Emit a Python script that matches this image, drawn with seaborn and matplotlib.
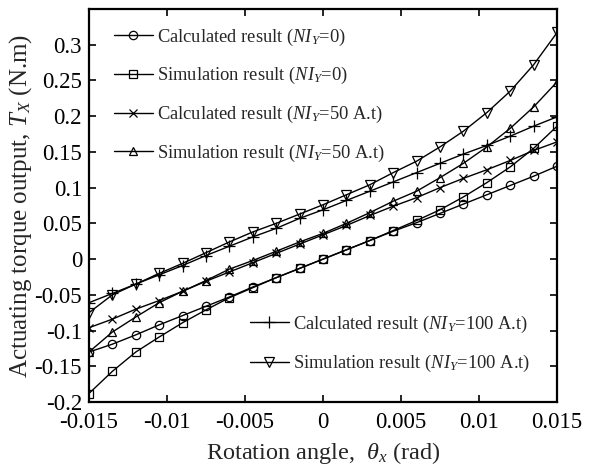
import numpy as np
import pandas as pd
import matplotlib
matplotlib.use("Agg")
import matplotlib.pyplot as plt
import seaborn as sns

sns.set_style("ticks")
plt.rcParams['font.family'] = ['Liberation Serif', 'DejaVu Serif']
plt.rcParams['mathtext.fontset'] = 'custom'
plt.rcParams['mathtext.rm'] = 'Liberation Serif'
plt.rcParams['mathtext.it'] = 'Liberation Serif:italic'

theta = [-0.015, -0.0135, -0.012, -0.0105, -0.009, -0.0075, -0.006, -0.0045, -0.003, -0.0015,
         0.0, 0.0015, 0.003, 0.0045, 0.006, 0.0075, 0.009, 0.0105, 0.012, 0.0135, 0.015]

calc_0 = [-0.130, -0.119, -0.106, -0.092, -0.079, -0.066, -0.053, -0.039, -0.026, -0.013,
          0.000, 0.013, 0.026, 0.039, 0.051, 0.064, 0.077, 0.090, 0.103, 0.116, 0.130]
sim_0 = [-0.188, -0.157, -0.130, -0.109, -0.089, -0.071, -0.054, -0.040, -0.026, -0.013,
         0.000, 0.013, 0.026, 0.040, 0.054, 0.069, 0.087, 0.107, 0.129, 0.155, 0.186]
calc_50 = [-0.096, -0.084, -0.070, -0.058, -0.045, -0.031, -0.018, -0.005, 0.008, 0.021,
           0.034, 0.047, 0.061, 0.074, 0.086, 0.100, 0.113, 0.125, 0.138, 0.152, 0.164]
sim_50 = [-0.130, -0.102, -0.081, -0.061, -0.045, -0.030, -0.014, -0.002, 0.011, 0.024,
          0.036, 0.050, 0.065, 0.081, 0.095, 0.114, 0.134, 0.157, 0.183, 0.213, 0.248]
calc_100 = [-0.061, -0.048, -0.035, -0.022, -0.009, 0.005, 0.018, 0.031, 0.043, 0.057,
            0.069, 0.082, 0.095, 0.108, 0.121, 0.134, 0.147, 0.159, 0.172, 0.186, 0.199]
sim_100 = [-0.075, -0.050, -0.035, -0.020, -0.006, 0.009, 0.024, 0.038, 0.050, 0.063,
           0.076, 0.090, 0.104, 0.121, 0.137, 0.157, 0.179, 0.205, 0.235, 0.272, 0.317]

labels = [r"Calculated result ($NI_Y$=0)",
          r"Simulation result ($NI_Y$=0)",
          r"Calculated result ($NI_Y$=50 A.t)",
          r"Simulation result ($NI_Y$=50 A.t)",
          r"Calculated result ($NI_Y$=100 A.t)",
          r"Simulation result ($NI_Y$=100 A.t)"]
series = [calc_0, sim_0, calc_50, sim_50, calc_100, sim_100]
markers = ['o', 's', 'x', '^', '+', 'v']
msizes = [6, 6, 6, 6, 8, 7]

xticks = [-0.015, -0.01, -0.005, 0, 0.005, 0.01, 0.015]
xticklabels = ['-0.015', '-0.01', '-0.005', '0', '0.005', '0.01', '0.015']
yticks = [-0.2, -0.15, -0.1, -0.05, 0, 0.05, 0.1, 0.15, 0.2, 0.25, 0.3]
yticklabels = ['-0.2', '-0.15', '-0.1', '-0.05', '0', '0.05', '0.1', '0.15', '0.2', '0.25', '0.3']

fig = plt.figure(figsize=(6.01, 4.67), dpi=100)
ax = fig.add_axes([0.148, 0.139, 0.779, 0.842])

for vals, lab, mk, ms in zip(series, labels, markers, msizes):
    df = pd.DataFrame({"theta": theta, "T": vals})
    sns.lineplot(data=df, x="theta", y="T", ax=ax, color='black', linewidth=1.0,
                 marker=mk, markersize=ms, markerfacecolor='none',
                 markeredgecolor='black', markeredgewidth=0.9, label=lab, legend=False)

ax.set_xlim(-0.015, 0.015)
ax.set_ylim(-0.2, 0.35)
ax.set_xticks(xticks)
ax.set_xticklabels(xticklabels)
ax.set_yticks(yticks)
ax.set_yticklabels(yticklabels)
ax.tick_params(direction='in', top=True, right=True, length=5, width=1.2,
               labelsize=16.5, colors='black')
ax.tick_params(axis='x', pad=7)
ax.tick_params(axis='y', pad=5)
for s in ax.spines.values():
    s.set_linewidth(1.6)
    s.set_color('black')

ax.set_xlabel(r"Rotation angle,  $\theta_x$ (rad)", fontsize=17.5, labelpad=5)
ax.set_ylabel(r"Actuating torque output, $T_X$ (N.m)", fontsize=18, labelpad=0)

handles = ax.get_lines()
leg1 = ax.legend(handles[:4], labels[:4], loc='upper left', bbox_to_anchor=(0.053, 0.955),
                 frameon=False, fontsize=13.3, handlelength=2.1, handletextpad=0.25,
                 labelspacing=0.95, borderpad=0, borderaxespad=0)
ax.add_artist(leg1)
ax.legend(handles[4:], labels[4:], loc='upper left', bbox_to_anchor=(0.344, 0.225),
          frameon=False, fontsize=13.3, handlelength=2.1, handletextpad=0.25,
          labelspacing=1.0, borderpad=0, borderaxespad=0)

fig.savefig("out.png", dpi=100)
